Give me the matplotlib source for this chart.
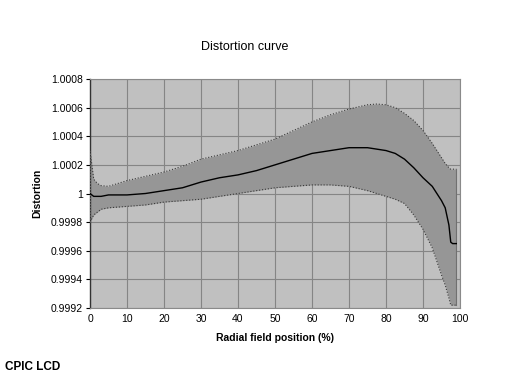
import matplotlib
matplotlib.use("Agg")
import matplotlib.pyplot as plt

plt.rcParams['font.family'] = ['Liberation Sans', 'DejaVu Sans']

x_pos = [0, 1, 2, 3, 5, 10, 15, 20, 25, 30, 35, 40, 45, 50, 55, 60, 65, 70, 75,
         77.5, 80, 82.5, 85, 87.5, 90, 92.5, 95, 96, 97, 97.5, 98, 99]
upper = [1.0003, 1.0001, 1.00007, 1.000055, 1.00005, 1.00009, 1.00012, 1.00015,
         1.00019, 1.00024, 1.00027, 1.0003, 1.00034, 1.00038, 1.00044, 1.0005,
         1.00055, 1.00059, 1.00062, 1.000625, 1.00062, 1.0006, 1.00056, 1.00051,
         1.00044, 1.00035, 1.00025, 1.00021, 1.00018, 1.00017, 1.00017, 1.00017]
mean = [1.0, 0.99998, 0.99998, 0.99998, 0.99999, 0.99999, 1.0, 1.00002,
        1.00004, 1.00008, 1.00011, 1.00013, 1.00016, 1.0002, 1.00024, 1.00028,
        1.0003, 1.00032, 1.00032, 1.00031, 1.0003, 1.00028, 1.00024, 1.00018,
        1.00011, 1.00005, 0.99995, 0.9999, 0.99978, 0.99966, 0.99965, 0.99965]
lower = [0.9998, 0.99985, 0.99987, 0.99989, 0.9999, 0.99991, 0.99992, 0.99994,
         0.99995, 0.99996, 0.99998, 1.0, 1.00002, 1.00004, 1.00005, 1.00006,
         1.00006, 1.00005, 1.00002, 1.0, 0.99998, 0.99996, 0.99993, 0.99985,
         0.99975, 0.99962, 0.99943, 0.99936, 0.99927, 0.99922, 0.99922, 0.99922]

y_ticks = [0.9992, 0.9994, 0.9996, 0.9998, 1.0, 1.0002, 1.0004, 1.0006, 1.0008]
y_labels = ["0.9992", "0.9994", "0.9996", "0.9998", "1", "1.0002", "1.0004",
            "1.0006", "1.0008"]
x_ticks = [0, 10, 20, 30, 40, 50, 60, 70, 80, 90, 100]

fig = plt.figure(figsize=(5.3, 3.75), dpi=100)
ax = fig.add_axes([90/530, 1-308/375, 370/530, 229/375])
ax.set_facecolor('#c0c0c0')

ax.fill_between(x_pos, lower, upper, color='#969696', lw=0, zorder=2)
ax.plot(x_pos, upper, color='#3a3a3a', lw=0.8, ls=':', zorder=3)
ax.plot(x_pos, lower, color='#3a3a3a', lw=0.8, ls=':', zorder=3)
ax.plot([x_pos[-1], x_pos[-1]], [lower[-1], upper[-1]], color='#707070', lw=0.8, zorder=3)
ax.plot([x_pos[0], x_pos[0]], [lower[0], upper[0]], color='#707070', lw=0.8, ls=':', zorder=3)
ax.plot(x_pos, mean, color='black', lw=1.0, zorder=4)

ax.set_xlim(0, 100)
ax.set_ylim(0.9992, 1.0008)
ax.set_xticks(x_ticks)
ax.set_xticklabels([str(v) for v in x_ticks])
ax.set_yticks(y_ticks)
ax.set_yticklabels(y_labels)
ax.tick_params(axis='both', labelsize=7.5, colors='black', pad=2)
ax.tick_params(axis='x', length=0, pad=4)
ax.tick_params(axis='y', length=3, width=0.8, direction='out')
ax.grid(True, color='#858585', lw=0.8, zorder=1)
ax.set_axisbelow(True)
for s in ['top', 'right']:
    ax.spines[s].set_color('#8a8a8a')
    ax.spines[s].set_linewidth(0.8)
ax.spines['left'].set_color('#333333')
ax.spines['left'].set_linewidth(1.0)
ax.spines['bottom'].set_color('#8a8a8a')
ax.spines['bottom'].set_linewidth(0.8)

fig.text(245/530, 1-47/375, "Distortion curve", ha='center', va='center', fontsize=9)
fig.text(37/530, 1-193/375, "Distortion", ha='center', va='center', rotation=90,
         fontsize=7.5, fontweight='bold')
fig.text(275/530, 1-338/375, "Radial field position (%)", ha='center', va='center',
         fontsize=7.5, fontweight='bold')
fig.text(5/530, 2/375, "CPIC LCD", ha='left', va='bottom', fontsize=8.5,
         fontweight='bold')

fig.savefig("out.png", dpi=100)
